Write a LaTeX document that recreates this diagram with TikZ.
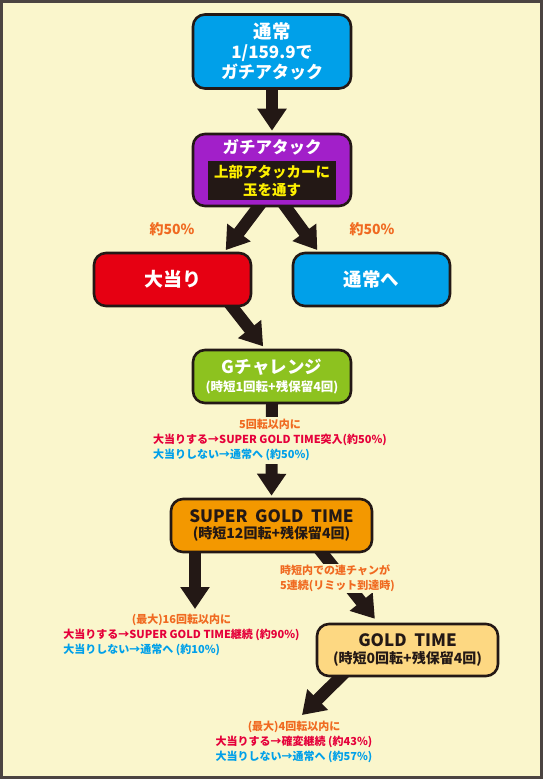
\documentclass[tikz,border=0pt]{standalone}
\usepackage{fontspec}
\setmainfont{Noto Sans CJK JP}
\usetikzlibrary{arrows.meta}

\definecolor{cream}{HTML}{FAF6CC}
\definecolor{framegray}{HTML}{4B4441}
\definecolor{ink}{HTML}{231815}
\definecolor{tsujoblue}{HTML}{00A0E9}
\definecolor{gachipurple}{HTML}{A21FC9}
\definecolor{hitred}{HTML}{E60012}
\definecolor{chalgreen}{HTML}{8DC21F}
\definecolor{sgtorange}{HTML}{F39800}
\definecolor{goldpale}{HTML}{FDD882}
\definecolor{noteorange}{HTML}{F06A21}
\definecolor{notered}{HTML}{E5003A}
\definecolor{taskyellow}{HTML}{FFF100}
\def\big#1{\fontsize{#1}{#1}\selectfont}
\def\gap{\hspace{0.45em}}
\tikzstyle{mode}=[draw=ink,line width=2.6pt,rounded corners=12pt,
                  align=center,font=\bfseries]
\tikzstyle{bigarrow}=[draw=ink,line width=12pt,shorten <=-8pt,
                  -{Triangle[width=28pt,length=22pt]}]
\tikzstyle{note}=[fill=cream,inner sep=1pt,
                  font=\bfseries\fontsize{11}{15}\selectfont]
\pgfdeclarelayer{bg}
\pgfdeclarelayer{arrows}
\pgfsetlayers{bg,arrows,main}

\begin{document}
\begin{tikzpicture}[x=1pt,y=-1pt]
  \useasboundingbox (0,0) rectangle (543,779);
  \begin{pgfonlayer}{bg}
    \fill[cream] (0,0) rectangle (543,779);
    \draw[framegray,line width=3pt] (1.5,1.5) rectangle (541.5,777.5);
  \end{pgfonlayer}

  % Place normal mode and gachi attack
  \node[mode,fill=tsujoblue,text=white,minimum width=158pt,minimum height=74pt,
        font=\bfseries\big{17}] (tsujo) at (272,51.5)
        {{\big{18.5}通常}\\[3pt]1/159.9で\\[2pt]ガチアタック};
  \node[mode,fill=gachipurple,minimum width=158pt,minimum height=72pt] (gachi) at (272,170) {};
  \node[text=white,font=\bfseries\big{16.5}] (gachititle) at (272,147) {ガチアタック};
  \node[fill=ink,text=taskyellow,minimum width=128pt,minimum height=39pt,align=center,
        font=\bfseries\fontsize{14.5}{18}\selectfont] (gachitask) at (272,180.5)
        {上部アタッカーに\\玉を通す};

  % Result of the attack
  \node[text=noteorange,font=\bfseries\big{14}] (hitrate) at (172,229) {約50\%};
  \node[text=noteorange,font=\bfseries\big{14}] (missrate) at (372,229) {約50\%};
  \node[mode,fill=hitred,text=white,minimum width=157pt,minimum height=53pt,
        font=\bfseries\big{19}] (oatari) at (172.5,279.5) {大当り};
  \node[mode,fill=tsujoblue,text=white,minimum width=157pt,minimum height=53pt,
        font=\bfseries\big{18.5}] (tsujohe) at (371.5,279.5) {通常へ};

  % G challenge
  \node[mode,fill=chalgreen,text=white,minimum width=158pt,minimum height=53pt]
        (gchal) at (272,376.5)
        {{\big{17.5}Gチャレンジ}\\[4pt]{\big{12.5}(時短1回転+残保留4回)}};
  \node[note] (gchalnote) at (270,440) {\begin{tabular}{@{}l@{}}
        \multicolumn{1}{@{}c@{}}{\color{noteorange}5回転以内に}\\
        \color{notered}大当りする→SUPER GOLD TIME突入(約50\%)\\
        \color{tsujoblue}大当りしない→通常へ (約50\%)\end{tabular}};

  % Super gold time and gold time
  \node[mode,fill=sgtorange,text=ink,minimum width=201pt,minimum height=53pt]
        (sgt) at (271.5,525.5)
        {{\big{17}SUPER\gap GOLD\gap TIME}\\[3pt]{\big{14}(時短12回転+残保留4回)}};
  \node[mode,fill=goldpale,text=ink,minimum width=181pt,minimum height=52pt]
        (gold) at (407.5,650)
        {{\big{17}GOLD\gap TIME}\\[3pt]{\big{14}(時短0回転+残保留4回)}};
  \node[note,anchor=west,align=left,text=noteorange] (limitnote) at (279,578.5)
        {時短内での連チャンが\\5連続(リミット到達時)};
  \node[note] (sgtnote) at (181.5,635) {\begin{tabular}{@{}l@{}}
        \multicolumn{1}{@{}c@{}}{\color{noteorange}(最大)16回転以内に}\\
        \color{notered}大当りする→SUPER GOLD TIME継続 (約90\%)\\
        \color{tsujoblue}大当りしない→通常へ (約10\%)\end{tabular}};
  \node[note] (goldnote) at (294,742) {\begin{tabular}{@{}l@{}}
        \multicolumn{1}{@{}c@{}}{\color{noteorange}(最大)4回転以内に}\\
        \color{notered}大当りする→確変継続 (約43\%)\\
        \color{tsujoblue}大当りしない→通常へ (約57\%)\end{tabular}};

  \coordinate (sgtdrop) at (195,609);
  \coordinate (goldfall) at (302,715);

  \begin{pgfonlayer}{arrows}
    \path (tsujo) edge[bigarrow,shorten >=2pt] (gachi);
    \path ([xshift=-14pt]gachi.south) edge[bigarrow,shorten >=2pt] ([xshift=52pt]oatari.north);
    \path ([xshift=14pt]gachi.south) edge[bigarrow,shorten >=2pt] ([xshift=-53pt]tsujohe.north);
    \path ([xshift=60pt]oatari.south) edge[bigarrow,shorten >=3pt] ([xshift=-7pt]gchal.north);
    \path (gchal.south) edge[bigarrow,shorten >=2pt] (sgt.north);
    \path ([xshift=-76.5pt]sgt.south) edge[bigarrow] (sgtdrop);
    \path ([xshift=51pt]sgt.south) edge[bigarrow,shorten >=5pt] ([xshift=-29.5pt]gold.north);
    \path ([xshift=-67.5pt]gold.south) edge[bigarrow] (goldfall);
  \end{pgfonlayer}
\end{tikzpicture}
\end{document}
